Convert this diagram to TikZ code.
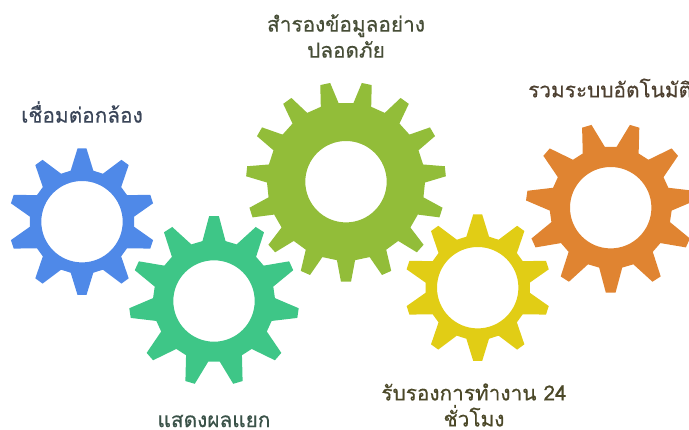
\documentclass[tikz,border=0pt]{standalone}
\usepackage{fontspec}
\usetikzlibrary{calc}
\newfontfamily\thaifont[Script=Thai,RawFeature={embolden=0.5}]{Loma}
\definecolor{gblue}{HTML}{4F89E8}
\definecolor{ggreen}{HTML}{3EC687}
\definecolor{golive}{HTML}{92BD39}
\definecolor{gyellow}{HTML}{E1CD15}
\definecolor{gorange}{HTML}{E08431}
\definecolor{tblue}{HTML}{3A4558}
\definecolor{tgreen}{HTML}{3A5248}
\definecolor{tolive}{HTML}{474E37}
\definecolor{tyellow}{HTML}{4B4828}
\definecolor{torange}{HTML}{4D4030}
\tikzset{
  label text/.style={font=\thaifont\fontsize{20.8}{26}\selectfont, align=center, inner sep=0pt},
  gear body/.style={even odd rule}
}
% #1 x, #2 y, #3 teeth, #4 first-tooth angle, #5 tip r, #6 root r, #7 tip half angle, #8 root half angle, #9 colour
\newcommand{\gearshape}[9]{%
  \pgfmathsetmacro{\gstep}{360/#3}
  \fill[#9, gear body]
    ($(#1,#2)+(#4-#8:#6)$)
    \foreach \k in {1,...,#3} {
      -- ($(#1,#2)+(#4+\k*\gstep-\gstep-#8:#6)$)
      -- ($(#1,#2)+(#4+\k*\gstep-\gstep-#7:#5)$)
      -- ($(#1,#2)+(#4+\k*\gstep-\gstep+#7:#5)$)
      -- ($(#1,#2)+(#4+\k*\gstep-\gstep+#8:#6)$)
    } -- cycle
    (#1,#2) circle[radius=40.7];
}
\begin{document}
\begin{tikzpicture}[x=1pt,y=-1pt]
\useasboundingbox (0,0) rectangle (689,429);
\clip (0,0) rectangle (689,429);
\gearshape{82}{221.7}{10}{-90}{73.4}{52.3}{3.5}{12.5}{gblue}
\gearshape{214}{301}{11}{-90}{85}{61}{3.3}{10.9}{ggreen}
\gearshape{346}{181.7}{15}{90}{100}{79}{2.9}{6.6}{golive}
\gearshape{477.7}{287.7}{10}{-90}{73.4}{52.3}{3.5}{12.5}{gyellow}
\gearshape{610.7}{207.7}{11}{90}{85}{61}{3.3}{10.9}{gorange}
\node[label text, text=tblue] (lblue) at (82,112) {เชื่อมต่อกล้อง};
\node[label text, text=tgreen] (lgreen) at (214,421) {แสดงผลแยก};
\node[label text, text=tolive] (lolive) at (346,36) {สำรองข้อมูลอย่าง\\ปลอดภัย};
\node[label text, text=tyellow] (lyellow) at (474,405) {รับรองการทำงาน 24\\ชั่วโมง};
\node[label text, text=torange, anchor=west] (lorange) at (528,88) {รวมระบบอัตโนมัติ};
\end{tikzpicture}
\end{document}
